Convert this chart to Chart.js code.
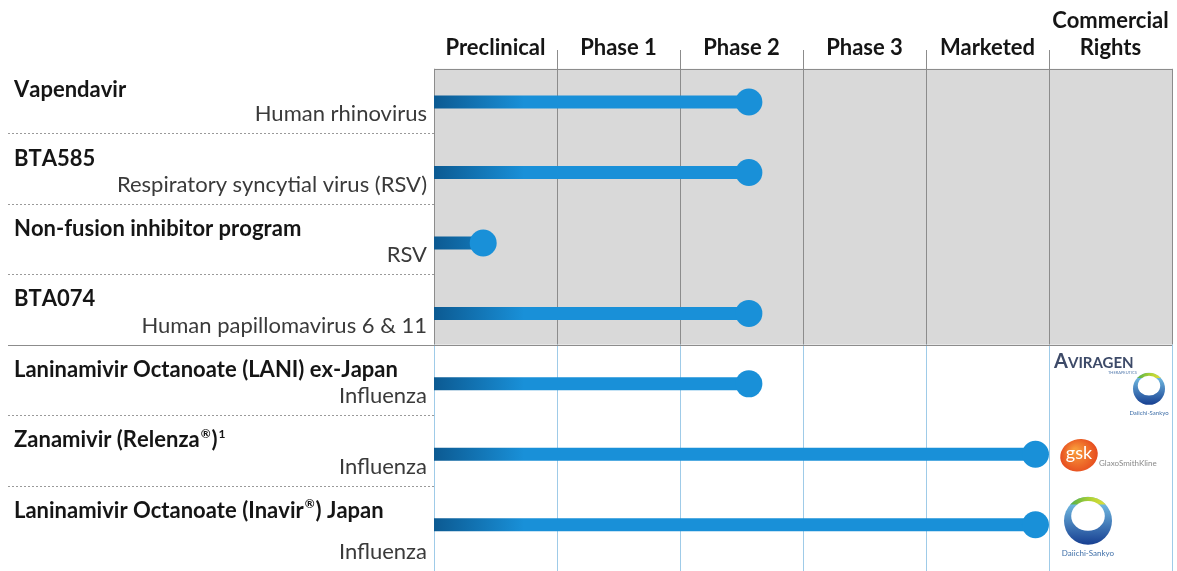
<!DOCTYPE html>
<html>
<head>
<meta charset="utf-8">
<script src="https://cdn.jsdelivr.net/npm/chart.js@4.4.1/dist/chart.umd.min.js"></script>
<style>
  html, body { margin: 0; padding: 0; background: #fff; }
  #wrap { width: 1177px; height: 571px; }
</style>
</head>
<body>
<div id="wrap"><canvas id="pipeline" width="1177" height="571"></canvas></div>
<script>
// stages across the top (last one is the rights column)
const phases = ['Preclinical', 'Phase 1', 'Phase 2', 'Phase 3', 'Marketed', ['Commercial', 'Rights']];
const programs = [
    'Vapendavir',
    'BTA585',
    'Non-fusion inhibitor program',
    'BTA074',
    'Laninamivir Octanoate (LANI) ex-Japan',
    'Zanamivir (Relenza\u00AE)\u00B9',
    'Laninamivir Octanoate (Inavir\u00AE) Japan'
];
const indications = [
    'Human rhinovirus',
    'Respiratory syncytial virus (RSV)',
    'RSV',
    'Human papillomavirus 6 & 11',
    'Influenza',
    'Influenza',
    'Influenza'
];
// how far each program has got, in stage widths from the start of Preclinical
const progress = [2.56, 2.56, 0.40, 2.56, 2.56, 4.89, 4.89];
const rights = [[], [], [], [], ['Aviragen', 'Daiichi-Sankyo'], ['GlaxoSmithKline'], ['Daiichi-Sankyo']];
const partneredFrom = 4; // rows from here on sit on the white part

const BLUE = '#1990d8';
const DARK = '#0c5a92';
const FONT = 'Lato, "DejaVu Sans", sans-serif';
const SUPS = { '\u00AE': '\u00AE', '\u00B9': '1' };

function barGradient(c) {
    const area = c.chart.chartArea;
    if (!area) return BLUE;
    const g = c.chart.ctx.createLinearGradient(area.left, 0, area.left + 90, 0);
    g.addColorStop(0, DARK);
    g.addColorStop(1, BLUE);
    return g;
}

const endDot = c => c.dataIndex === 1 ? 13.5 : 0;

const datasets = programs.map((name, i) => ({
    label: name,
    data: [{ x: 0, y: name }, { x: progress[i], y: name }],
    showLine: true,
    clip: false,
    borderWidth: 13,
    borderCapStyle: 'butt',
    borderColor: barGradient,
    pointRadius: endDot,
    pointHoverRadius: endDot,
    pointBackgroundColor: BLUE,
    pointBorderWidth: 0
}));

function rowEdges(chart) {
    const ys = chart.scales.y;
    const top = chart.chartArea.top + 2;
    const edges = [top];
    for (let k = 0; k < programs.length - 1; k++) edges.push(ys.getPixelForValue(k + 0.5) - 4);
    edges.push(chart.height);
    return edges;
}

// text with ® and ¹ set small and raised
function richText(ctx, text, x, y, size) {
    let cx = x;
    for (const ch of text) {
        if (SUPS[ch]) {
            ctx.font = 'bold ' + Math.round(size * 0.55) + 'px ' + FONT;
            ctx.fillText(SUPS[ch], cx + 1, y - size * 0.3);
            cx += ctx.measureText(SUPS[ch]).width + 2;
        } else {
            ctx.font = 'bold ' + size + 'px ' + FONT;
            ctx.fillText(ch, cx, y);
            cx += ctx.measureText(ch).width;
        }
    }
}

const gridPlugin = {
    id: 'pipelineGrid',
    beforeDraw(chart) {
        const ctx = chart.ctx, xs = chart.scales.x, ys = chart.scales.y;
        const edges = rowEdges(chart);
        const left = xs.getPixelForValue(0), right = xs.getPixelForValue(phases.length);
        const top = edges[0], split = edges[partneredFrom];

        ctx.save();
        ctx.fillStyle = '#fff';
        ctx.fillRect(0, 0, chart.width, chart.height);
        ctx.fillStyle = '#d9d9d9';
        ctx.fillRect(left, top, right - left, split - top);

        // column lines: grey over the grey block, light blue below
        ctx.lineWidth = 1;
        for (let k = 0; k <= phases.length; k++) {
            const x = Math.round(xs.getPixelForValue(k)) + 0.5;
            ctx.strokeStyle = '#8c8c8c';
            ctx.beginPath();
            ctx.moveTo(x, (k === 0 || k === phases.length) ? top : 50);
            ctx.lineTo(x, split);
            ctx.stroke();
            ctx.strokeStyle = '#9fcbe8';
            ctx.beginPath();
            ctx.moveTo(x, split);
            ctx.lineTo(x, chart.height);
            ctx.stroke();
        }
        ctx.strokeStyle = '#8c8c8c';
        ctx.beginPath();
        ctx.moveTo(left, Math.round(top) + 0.5);
        ctx.lineTo(right, Math.round(top) + 0.5);
        ctx.stroke();
        ctx.beginPath();
        ctx.moveTo(8, Math.round(split) + 0.5);
        ctx.lineTo(right, Math.round(split) + 0.5);
        ctx.stroke();

        // dotted row separators in the label area
        ctx.strokeStyle = '#9a9a9a';
        ctx.setLineDash([2, 2]);
        for (let k = 1; k < edges.length - 1; k++) {
            if (k === partneredFrom) continue;
            const y = Math.round(edges[k]) + 0.5;
            ctx.beginPath();
            ctx.moveTo(8, y);
            ctx.lineTo(left, y);
            ctx.stroke();
        }
        ctx.setLineDash([]);

        // program names and indications
        ctx.textBaseline = 'middle';
        programs.forEach((name, i) => {
            const bar = ys.getPixelForValue(i);
            ctx.fillStyle = '#151515';
            ctx.textAlign = 'left';
            richText(ctx, name, 14, Math.max(edges[i] + 21, bar - 14), 22);
            ctx.font = '22px ' + FONT;
            ctx.fillStyle = '#3a3a3a';
            ctx.textAlign = 'right';
            ctx.fillText(indications[i], 427, edges[i + 1] - 19);
        });
        ctx.restore();
    }
};

function drawDaiichi(ctx, cx, cy, r, labelY, labelSize) {
    ctx.save();
    const g = ctx.createLinearGradient(0, cy - r, 0, cy + r);
    g.addColorStop(0, '#7fcdee');
    g.addColorStop(1, '#173f91');
    ctx.beginPath();
    ctx.arc(cx, cy, r, 0, Math.PI * 2);
    ctx.fillStyle = g;
    ctx.fill();
    ctx.clip();
    const cap = ctx.createLinearGradient(cx - r, 0, cx + r, 0);
    cap.addColorStop(0, '#3aa64a');
    cap.addColorStop(0.6, '#b9d535');
    cap.addColorStop(1, '#f2e33b');
    ctx.fillStyle = cap;
    ctx.fillRect(cx - r, cy - r, 2 * r, r * 0.32);
    ctx.restore();
    ctx.save();
    ctx.beginPath();
    ctx.ellipse(cx, cy - r * 0.2, r * 0.7, r * 0.62, 0, 0, Math.PI * 2);
    ctx.fillStyle = '#fff';
    ctx.fill();
    ctx.font = labelSize + 'px ' + FONT;
    ctx.fillStyle = '#3f6fa8';
    ctx.textAlign = 'center';
    ctx.textBaseline = 'middle';
    ctx.fillText('Daiichi-Sankyo', cx, labelY);
    ctx.restore();
}

function drawGsk(ctx, cx, cy) {
    ctx.save();
    const g = ctx.createRadialGradient(cx - 4, cy - 5, 2, cx, cy, 20);
    g.addColorStop(0, '#f89a3a');
    g.addColorStop(1, '#e5461d');
    ctx.beginPath();
    ctx.ellipse(cx, cy, 19, 16, -0.3, 0, Math.PI * 2);
    ctx.fillStyle = g;
    ctx.fill();
    ctx.font = '18px ' + FONT;
    ctx.fillStyle = '#fff';
    ctx.textAlign = 'center';
    ctx.textBaseline = 'middle';
    ctx.fillText('gsk', cx, cy - 2);
    ctx.font = '8px ' + FONT;
    ctx.fillStyle = '#8a8a8a';
    ctx.textAlign = 'left';
    ctx.fillText('GlaxoSmithKline', cx + 20, cy + 8);
    ctx.restore();
}

function drawAviragen(ctx, x, y) {
    ctx.save();
    ctx.fillStyle = '#3d4a68';
    ctx.textBaseline = 'alphabetic';
    ctx.font = 'bold 20px ' + FONT;
    ctx.fillText('A', x, y + 7);
    ctx.font = 'bold 15px ' + FONT;
    ctx.fillText('VIRAGEN', x + 14, y + 7);
    ctx.font = '4px ' + FONT;
    ctx.fillStyle = '#5a7fb0';
    ctx.fillText('THERAPEUTICS', x + 54, y + 13);
    ctx.restore();
}

const logoPlugin = {
    id: 'rightsLogos',
    afterDatasetsDraw(chart) {
        const ctx = chart.ctx, xs = chart.scales.x, ys = chart.scales.y;
        const colLeft = xs.getPixelForValue(phases.length - 1);
        rights.forEach((list, i) => {
            const y = ys.getPixelForValue(i);
            if (list.length === 2) {
                drawAviragen(ctx, colLeft + 5, y - 23);
                drawDaiichi(ctx, colLeft + 100, y + 5, 16, y + 29, 6);
            } else if (list[0] === 'GlaxoSmithKline') {
                drawGsk(ctx, colLeft + 30, y + 1);
            } else if (list[0] === 'Daiichi-Sankyo') {
                drawDaiichi(ctx, colLeft + 39, y - 4, 24, y + 29, 8);
            }
        });
    }
};

new Chart(document.getElementById('pipeline'), {
    type: 'scatter',
    data: { datasets },
    options: {
        responsive: false,
        devicePixelRatio: 1,
        animation: false,
        layout: { autoPadding: false, padding: { left: 434, right: 5, top: 2, bottom: 11 } },
        plugins: { legend: { display: false }, tooltip: { enabled: false } },
        scales: {
            x: {
                type: 'linear',
                position: 'top',
                min: 0,
                max: phases.length,
                grid: { display: false, drawTicks: false },
                border: { display: false },
                afterBuildTicks: s => { s.ticks = phases.map((p, i) => ({ value: i + 0.5 })); },
                ticks: {
                    callback: (v, i) => phases[i],
                    autoSkip: false,
                    maxRotation: 0,
                    padding: 6,
                    color: '#151515',
                    font: { family: FONT, size: 22, weight: 'bold', lineHeight: 1.2 }
                }
            },
            y: {
                type: 'category',
                labels: programs,
                offset: true,
                display: false
            }
        }
    },
    plugins: [gridPlugin, logoPlugin]
});
</script>
</body>
</html>
